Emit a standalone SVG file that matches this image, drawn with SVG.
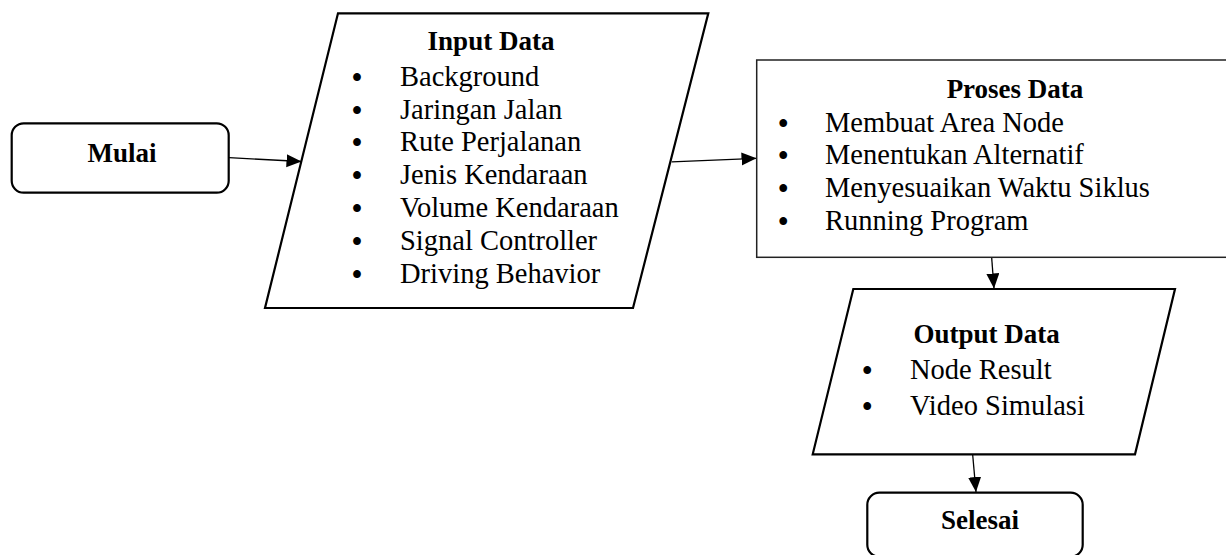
<svg xmlns="http://www.w3.org/2000/svg" width="1226" height="555" viewBox="0 0 1226 555">
  <defs>
    <marker id="arrow" markerUnits="userSpaceOnUse" markerWidth="16" markerHeight="14" refX="15" refY="6.5" orient="auto">
      <path d="M0,0 L15,6.5 L0,13 Z" fill="#000"/>
    </marker>
    <style>
      .shape { fill: #fff; stroke: #000; stroke-width: 2.2; }
      .box { fill: #fff; stroke: #222; stroke-width: 1.5; }
      .conn { fill: none; stroke: #000; stroke-width: 1.3; marker-end: url(#arrow); }
      .t { font-family: "Liberation Serif", "Times New Roman", serif; font-size: 28.5px; fill: #000; }
      .b { font-family: "Liberation Serif", "Times New Roman", serif; font-size: 27px; font-weight: bold; fill: #000; text-anchor: middle; }
      .bul { text-anchor: middle; font-weight: bold; }
    </style>
  </defs>
  <rect width="1226" height="555" fill="#fff"/>

  <g id="connectors">
    <line class="conn" x1="229" y1="157.7" x2="301.5" y2="161.5"/>
    <line class="conn" x1="671.7" y1="161.8" x2="756.5" y2="158.3"/>
    <line class="conn" x1="991.7" y1="258" x2="994" y2="288.5"/>
    <line class="conn" x1="972.7" y1="455" x2="976" y2="492"/>
  </g>

  <g id="mulai">
    <rect class="shape" x="11.7" y="123.3" width="217" height="69.4" rx="12" ry="12"/>
    <text class="b" x="122" y="161.7">Mulai</text>
  </g>

  <g id="input-data">
    <polygon class="shape" points="338,13.3 708.3,13.3 633,308 265,308"/>
    <text class="b" x="491" y="50">Input Data</text>
    <g class="t">
      <text class="bul" x="357" y="87">•</text><text x="400" y="86">Background</text>
      <text class="bul" x="357" y="119.5">•</text><text x="400" y="118.5">Jaringan Jalan</text>
      <text class="bul" x="357" y="152.3">•</text><text x="400" y="151.3">Rute Perjalanan</text>
      <text class="bul" x="357" y="185">•</text><text x="400" y="184">Jenis Kendaraan</text>
      <text class="bul" x="357" y="217.8">•</text><text x="400" y="216.8">Volume Kendaraan</text>
      <text class="bul" x="357" y="250.5">•</text><text x="400" y="249.5">Signal Controller</text>
      <text class="bul" x="357" y="283.5">•</text><text x="400" y="282.5">Driving Behavior</text>
    </g>
  </g>

  <g id="proses-data">
    <rect class="box" x="756.7" y="60" width="490" height="197.3"/>
    <text class="b" x="1015" y="98.3">Proses Data</text>
    <g class="t">
      <text class="bul" x="783.3" y="132.5">•</text><text x="825" y="131.5">Membuat Area Node</text>
      <text class="bul" x="783.3" y="165.3">•</text><text x="825" y="164.3">Menentukan Alternatif</text>
      <text class="bul" x="783.3" y="198">•</text><text x="825" y="197">Menyesuaikan Waktu Siklus</text>
      <text class="bul" x="783.3" y="230.8">•</text><text x="825" y="229.8">Running Program</text>
    </g>
  </g>

  <g id="output-data">
    <polygon class="shape" points="853.3,289 1175,289 1135,454.3 812.7,454.3"/>
    <text class="b" x="986.7" y="343.3">Output Data</text>
    <g class="t">
      <text class="bul" x="867.3" y="380.3">•</text><text x="910" y="379.3">Node Result</text>
      <text class="bul" x="867.3" y="416">•</text><text x="910" y="415">Video Simulasi</text>
    </g>
  </g>

  <g id="selesai">
    <rect class="shape" x="867.3" y="492.7" width="215.4" height="64" rx="12" ry="12"/>
    <text class="b" x="980" y="529">Selesai</text>
  </g>
</svg>
